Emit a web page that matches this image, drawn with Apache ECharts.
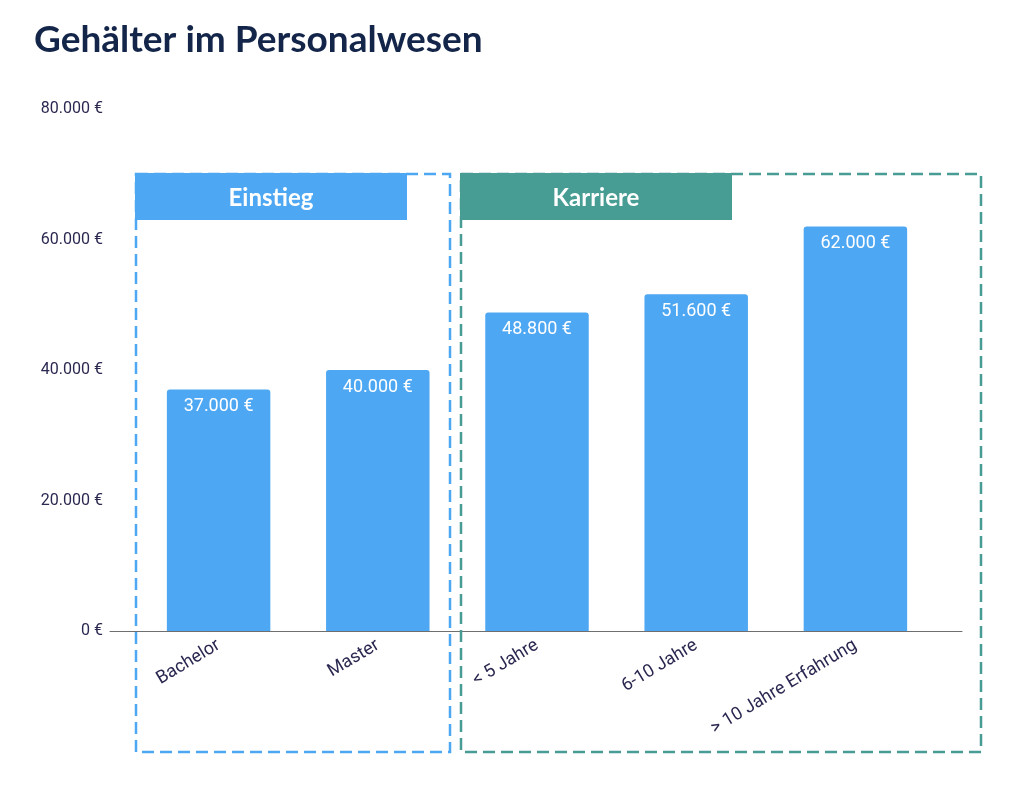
<!DOCTYPE html>
<html>
<head>
<meta charset="utf-8">
<script src="https://cdn.jsdelivr.net/npm/echarts@6/dist/echarts.min.js"></script>
<style>
  html, body { margin: 0; padding: 0; background: #fff; }
  #chart { width: 1024px; height: 788px; }
</style>
</head>
<body>
<div id="chart"></div>
<script>
const categories = ['Bachelor', 'Master', '< 5 Jahre', '6-10 Jahre', '> 10 Jahre Erfahrung'];
const salaries = [37000, 40000, 48800, 51600, 62000];
const yTicks = [0, 20000, 40000, 60000, 80000];
const groupNames = ['Einstieg', 'Karriere'];

const blue = '#4ea7f2';
const teal = '#479c93';
const navy = '#14254a';
const labelColor = '#2a2850';

// 37000 -> "37.000 €"
const euro = (v) => String(v).replace(/\B(?=(\d{3})+(?!\d))/g, '.') + ' €';

const chart = echarts.init(document.getElementById('chart'));

const options = {
  animation: false,
  title: {
    text: 'Gehälter im Personalwesen',
    left: 29,
    top: 17,
    textStyle: { fontFamily: 'Lato', fontWeight: 700, fontSize: 37, color: navy }
  },
  grid: [
    { left: 139, right: 89, top: 109, bottom: 157 },
    { left: 110, right: 62, top: 109, bottom: 157 }
  ],
  xAxis: [
    {
      type: 'category',
      gridIndex: 0,
      data: categories,
      axisLine: { show: false },
      axisTick: { show: false },
      axisLabel: {
        interval: 0,
        rotate: 31,
        margin: 13,
        color: labelColor,
        fontFamily: 'Roboto',
        fontSize: 18
      }
    },
    {
      type: 'value',
      gridIndex: 1,
      min: 0,
      max: 1,
      axisLine: { show: true, lineStyle: { color: '#6f6f6f', width: 1 } },
      axisTick: { show: false },
      axisLabel: { show: false },
      splitLine: { show: false }
    }
  ],
  yAxis: [
    {
      type: 'value',
      gridIndex: 0,
      min: yTicks[0],
      max: yTicks[yTicks.length - 1],
      interval: yTicks[1] - yTicks[0],
      axisLine: { show: false },
      axisTick: { show: false },
      splitLine: { show: false },
      axisLabel: {
        margin: 36,
        color: labelColor,
        fontFamily: 'Roboto',
        fontSize: 16,
        formatter: euro
      }
    },
    {
      type: 'value',
      gridIndex: 1,
      min: 0,
      max: 1,
      show: false
    }
  ],
  series: [
    {
      type: 'bar',
      xAxisIndex: 0,
      yAxisIndex: 0,
      data: salaries,
      barWidth: '65%',
      itemStyle: { color: blue, borderRadius: [3, 3, 0, 0] },
      label: {
        show: true,
        position: 'insideTop',
        distance: 8,
        color: '#fff',
        fontFamily: 'Roboto',
        fontSize: 18,
        formatter: (p) => euro(p.value)
      }
    }
  ],
  graphic: [
    {
      type: 'rect',
      z: 10,
      shape: { x: 136, y: 174, width: 314, height: 578 },
      style: { fill: 'none', stroke: blue, lineWidth: 2.5, lineDash: [12, 6] }
    },
    {
      type: 'rect',
      z: 10,
      shape: { x: 461, y: 174, width: 520, height: 578 },
      style: { fill: 'none', stroke: teal, lineWidth: 2.5, lineDash: [12, 6] }
    },
    {
      type: 'rect',
      z: 11,
      shape: { x: 135, y: 173, width: 272, height: 47 },
      style: { fill: blue }
    },
    {
      type: 'rect',
      z: 11,
      shape: { x: 460, y: 173, width: 272, height: 47 },
      style: { fill: teal }
    },
    {
      type: 'text',
      z: 12,
      x: 271,
      y: 198,
      style: {
        text: groupNames[0],
        fill: '#fff',
        font: '700 24px Lato',
        textAlign: 'center',
        textVerticalAlign: 'middle'
      }
    },
    {
      type: 'text',
      z: 12,
      x: 596,
      y: 198,
      style: {
        text: groupNames[1],
        fill: '#fff',
        font: '700 24px Lato',
        textAlign: 'center',
        textVerticalAlign: 'middle'
      }
    }
  ]
};

chart.setOption(options);
</script>
</body>
</html>
